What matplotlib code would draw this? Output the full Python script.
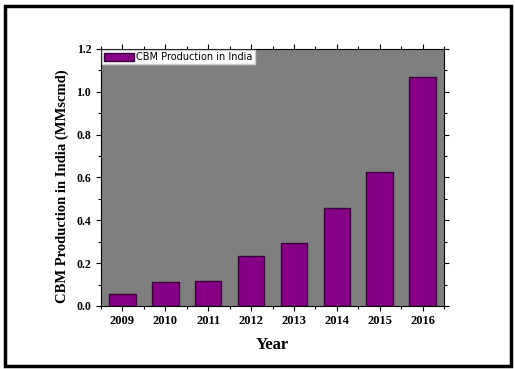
import matplotlib.pyplot as plt
from matplotlib.patches import Rectangle
from matplotlib.ticker import MultipleLocator

years = [2009, 2010, 2011, 2012, 2013, 2014, 2015, 2016]
production = [0.057, 0.11, 0.118, 0.233, 0.294, 0.456, 0.626, 1.071]
series_label = 'CBM Production in India'

fig = plt.figure(figsize=(5.15, 3.69), dpi=100)
fig.patch.set_facecolor('white')

# outer black frame around the whole picture
fig.patches.append(Rectangle((0.009, 0.009), 0.983, 0.976, transform=fig.transFigure,
                             fill=False, edgecolor='black', linewidth=2.5))

ax = fig.add_axes([101 / 515, 1 - 306 / 369, 343 / 515, 257 / 369])
ax.set_facecolor('#7f7f7f')

ax.bar(years, production, width=0.62, color='#850085', edgecolor='#3a003a',
       linewidth=1.0, label=series_label, zorder=2)

ax.set_xlim(2008.5, 2016.5)
ax.set_ylim(0, 1.2)
ax.set_xticks(years)
ax.xaxis.set_minor_locator(MultipleLocator(0.5))
ax.yaxis.set_major_locator(MultipleLocator(0.2))
ax.yaxis.set_minor_locator(MultipleLocator(0.1))
ax.yaxis.set_major_formatter(plt.FuncFormatter(lambda v, p: f'{v:.1f}'))

serif = 'Liberation Serif'
for lab in ax.get_xticklabels():
    lab.set_fontfamily(serif)
    lab.set_fontweight('bold')
    lab.set_fontsize(9)
for lab in ax.get_yticklabels():
    lab.set_fontfamily(serif)
    lab.set_fontweight('bold')
    lab.set_fontsize(8.5)

ax.tick_params(which='both', direction='out', top=True, right=True, width=0.8)
ax.tick_params(which='major', length=3.5)
ax.tick_params(which='minor', length=2)
ax.tick_params(axis='x', which='both', top=True, labeltop=False)
ax.tick_params(axis='x', pad=3)

for s in ax.spines.values():
    s.set_linewidth(0.8)

ax.set_xlabel('Year', fontfamily=serif, fontweight='bold', fontsize=12, labelpad=7)
ax.set_ylabel('CBM Production in India (MMscmd)', fontfamily=serif,
              fontweight='bold', fontsize=10.5)
ax.yaxis.set_label_coords(-0.093, 0.465)

leg = ax.legend(loc='upper left', frameon=True, fancybox=False,
                borderaxespad=0.15, borderpad=0.2, handlelength=3.0,
                handleheight=0.9, handletextpad=0.3,
                prop={'family': 'DejaVu Sans', 'size': 7})
leg.get_frame().set_facecolor('white')
leg.get_frame().set_edgecolor('#cccccc')
leg.get_frame().set_alpha(1)

fig.savefig('out.png', dpi=100)
